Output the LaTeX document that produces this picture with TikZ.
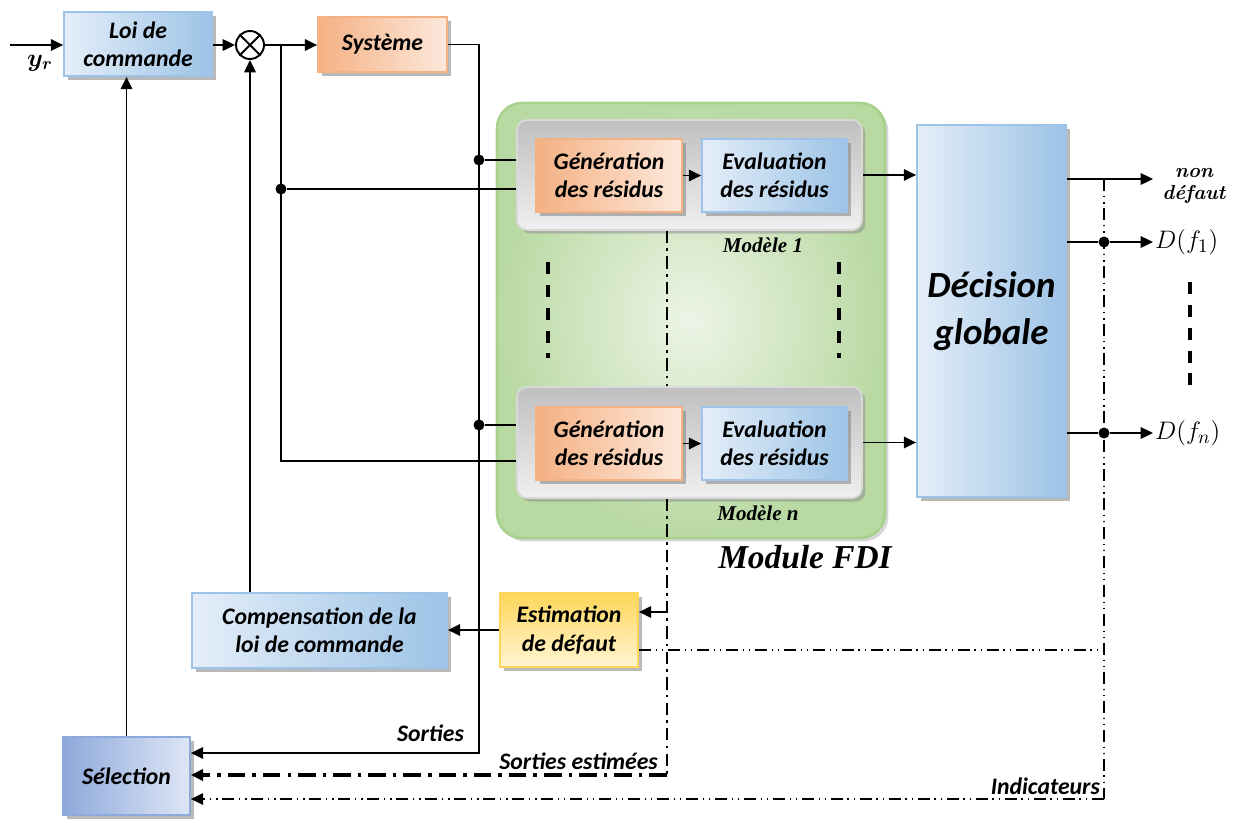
\documentclass[tikz,border=0pt]{standalone}
\usepackage[no-math]{fontspec}
\usepackage{bm}
\usetikzlibrary{arrows.meta,shadows}
\newfontfamily\calibri{Carlito}
\newfontfamily\tnr{Liberation Serif}
\definecolor{bleuF}{RGB}{157,195,230}
\definecolor{bleuC}{RGB}{228,238,249}
\definecolor{violF}{RGB}{142,169,219}
\definecolor{violC}{RGB}{222,230,245}
\definecolor{orangeF}{RGB}{244,177,131}
\definecolor{orangeC}{RGB}{253,232,220}
\definecolor{jauneF}{RGB}{255,214,90}
\definecolor{jauneC}{RGB}{255,245,210}
\definecolor{vertF}{RGB}{169,209,142}
\definecolor{vertC}{RGB}{232,242,224}
\tikzset{
  bloc/.style={line width=1pt,align=center,inner sep=2pt,
    font=\calibri\bfseries\itshape\fontsize{13.5}{16}\selectfont,
    drop shadow={shadow xshift=2.5pt,shadow yshift=-2.5pt,fill=black!50,opacity=.55}},
  bleu/.style={bloc,draw=bleuF,left color=bleuC,right color=bleuF},
  violet/.style={bloc,draw=violF,left color=violF,right color=violC},
  orange/.style={bloc,draw=orangeF,left color=orangeF,right color=orangeC},
  jaune/.style={bloc,draw=jauneF,top color=jauneF,bottom color=jauneC},
  gris/.style={draw=black!15,line width=1pt,rounded corners=0.2cm,
    top color=black!25,bottom color=black!6,
    drop shadow={shadow xshift=2pt,shadow yshift=-2pt,fill=black!45,opacity=.5}},
  module/.style={draw=vertF,line width=1.5pt,rounded corners=0.5cm,
    inner color=vertC!80!white,outer color=vertF!75!vertC,
    drop shadow={shadow xshift=2pt,shadow yshift=-2pt,fill=black!40,opacity=.4}},
  etiquette/.style={inner sep=1pt,font=\calibri\bfseries\itshape\fontsize{13.5}{16}\selectfont},
  modele/.style={font=\tnr\bfseries\itshape\fontsize{12}{14}\selectfont},
  sortie/.style={inner sep=0pt,font=\bfseries\itshape\fontsize{11.5}{13}\selectfont},
  trait/.style={line width=1.1pt},
  fleche/.style={-{Triangle[length=7pt,width=6.5pt]}},
  point/.style={circle,fill,inner sep=0pt,minimum size=0.22cm},
  tiretpoint/.style={line width=1.6pt,dash pattern=on 7pt off 3pt on 1.5pt off 3pt},
  tiretpointgras/.style={line width=2.2pt,dash pattern=on 10pt off 4pt on 2pt off 4pt},
  tiretdeuxpoints/.style={line width=1pt,dash pattern=on 7pt off 2.5pt on 1pt off 2.5pt on 1pt off 2.5pt},
  pointilles/.style={line width=2.2pt,dash pattern=on 7pt off 6pt}
}
\begin{document}
\begin{tikzpicture}[x=0.02cm,y=-0.02cm]
\useasboundingbox (0,0) rectangle (1235,822);
% module FDI
\node[module,minimum width=7.76cm,minimum height=8.7cm] (fdi) at (691,320.5) {};
\node[gris,minimum width=6.9cm,minimum height=2.2cm] (gris1) at (689.5,175) {};
\node[orange,minimum width=2.92cm,minimum height=1.46cm] (gen1) at (609,175.5) {Génération\\des résidus};
\node[bleu,minimum width=2.9cm,minimum height=1.46cm] (eval1) at (774.5,175.5) {Evaluation\\des résidus};
\node[gris,minimum width=6.9cm,minimum height=2.22cm] (grisn) at (689.5,442.5) {};
\node[orange,minimum width=2.92cm,minimum height=1.46cm] (genn) at (609,443.5) {Génération\\des résidus};
\node[bleu,minimum width=2.9cm,minimum height=1.46cm] (evaln) at (774.5,443.5) {Evaluation\\des résidus};
\node[modele] (mod1) at (763,245) {Modèle 1};
\node[modele] (modn) at (758,513) {Modèle n};
\node[font=\tnr\bfseries\itshape\fontsize{19}{22}\selectfont] (titre) at (805,557) {Module FDI};
% blocs
\node[bleu,minimum width=2.96cm,minimum height=1.28cm] (loi) at (138,44) {Loi de\\commande};
\node[draw,circle,line width=1.1pt,minimum size=0.56cm,inner sep=0pt] (somme) at (250,45) {};
\draw[line width=1.1pt] (somme.north west) -- (somme.south east) (somme.north east) -- (somme.south west);
\node[orange,minimum width=2.58cm,minimum height=1.1cm] (sys) at (382.5,44.5) {Système};
\node[bleu,minimum width=2.98cm,minimum height=7.44cm,font=\calibri\bfseries\itshape\fontsize{21}{27}\selectfont] (dec) at (991.5,311) {Décision\\globale};
\node[jaune,minimum width=2.76cm,minimum height=1.48cm] (est) at (569,630) {Estimation\\de défaut};
\node[bleu,minimum width=5.1cm,minimum height=1.5cm] (comp) at (319.5,630.5) {Compensation de la\\loi de commande};
\node[violet,minimum width=2.54cm,minimum height=1.56cm] (sel) at (126.5,776) {Sélection};
% points
\node[point] (p1) at (479,160) {};
\node[point] (p2) at (281,189) {};
\node[point] (p3) at (479,425) {};
\node[point] (q1) at (1104,242) {};
\node[point] (qn) at (1104,433) {};
\coordinate (entree) at (10,45);
\coordinate (t1) at (281,45);
\coordinate (t2) at (281,461);
\coordinate (sor) at (479,753);
\coordinate (axe) at (667,0);
\coordinate (ee) at (667,612);
\coordinate (se) at (667,775);
\coordinate (ie) at (1104,650);
\coordinate (ih) at (1104,179);
\coordinate (ib) at (1104,799);
\coordinate (nd) at (1153,179);
% boucle de commande
\draw[trait,fleche] (entree) -- (entree -| loi.west);
\node[font=\fontsize{14}{16}\selectfont] (yr) at (40,63) {$\bm{y_r}$};
\draw[trait,fleche] (loi.east |- somme) -- (somme.west);
\draw[trait,fleche] (somme.east) -- (somme -| sys.west);
\draw[trait,fleche] (sys.east) -| (sor) -- (sor -| sel.east);
\draw[trait] (p1) -- (p1 -| gris1.west);
\draw[trait] (p3) -- (p3 -| grisn.west);
\draw[trait] (t1) -- (t2) -- (t2 -| grisn.west);
\draw[trait] (p2) -- (p2 -| gris1.west);
\draw[trait,fleche] (gen1) -- (eval1);
\draw[trait,fleche] (genn) -- (evaln);
\draw[trait,fleche] (gris1.east) -- (gris1.east -| dec.west);
\draw[trait,fleche] (grisn.east) -- (grisn.east -| dec.west);
\draw[trait,fleche] (est.west) -- (est.west -| comp.east);
\draw[trait,fleche] (somme |- comp.north) -- (somme.south);
\draw[trait,fleche] (sel.north) -- (sel.north |- loi.south);
% sorties estimees
\draw[tiretpoint] (axe |- gris1.south) -- (axe |- grisn.north);
\draw[tiretpoint] (axe |- grisn.south) -- (se);
\draw[tiretpointgras,fleche] (se) -- (se -| sel.east);
\draw[trait,fleche] (ee) -- (ee -| est.east);
% indicateurs
\draw[tiretdeuxpoints] (est.east |- ie) -- (ie);
\draw[tiretdeuxpoints] (ih) -- (ib);
\draw[tiretdeuxpoints,fleche] (ib) -- (ib -| sel.east);
% decisions
\draw[trait,fleche] (dec.east |- nd) -- (nd);
\node[sortie] (non) at (1194,173) {non};
\node[sortie] (defaut) at (1194,194) {défaut};
\node[anchor=west,inner sep=1pt,font=\fontsize{15}{18}\selectfont] (df1) at (1153,242) {$D(f_1)$};
\node[anchor=west,inner sep=1pt,font=\fontsize{15}{18}\selectfont] (dfn) at (1153,433) {$D(f_n)$};
\draw[trait,fleche] (dec.east |- q1) -- (q1) -- (df1.west);
\draw[trait,fleche] (dec.east |- qn) -- (qn) -- (dfn.west);
% pointilles
\draw[pointilles] (548,262) -- (548,358);
\draw[pointilles] (839,262) -- (839,358);
\draw[pointilles] (1190,282) -- (1190,385);
% etiquettes
\node[etiquette,anchor=south east] (ls) at (466,744) {Sorties};
\node[etiquette,anchor=south east] (lse) at (660,772) {Sorties estimées};
\node[etiquette,anchor=south east] (li) at (1102,797) {Indicateurs};
\end{tikzpicture}
\end{document}
